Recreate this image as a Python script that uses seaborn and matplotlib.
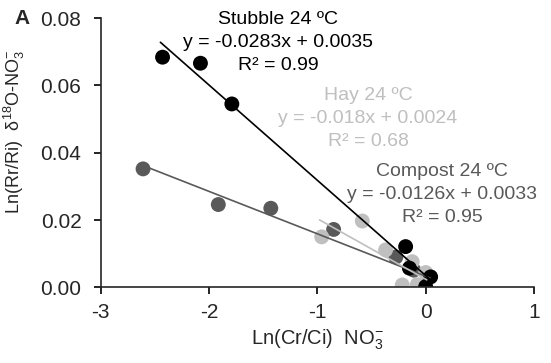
import numpy as np
import pandas as pd
import seaborn as sns
import matplotlib.pyplot as plt

# data
stubble_x = [-2.43, -2.08, -1.79, -0.185, -0.15, 0.046, 0.0]
stubble_y = [0.0684, 0.0666, 0.0545, 0.0121, 0.0057, 0.0031, 0.0002]
compost_x = [-2.61, -1.915, -1.43, -0.85, -0.275, -0.11, 0.03]
compost_y = [0.0352, 0.0246, 0.0235, 0.0172, 0.0090, 0.0051, 0.0030]
hay_x = [-0.96, -0.585, -0.37, -0.124, -0.216, -0.077, 0.0]
hay_y = [0.0150, 0.0197, 0.0111, 0.0076, 0.0007, 0.0008, 0.0044]

# fitted lines as printed on the chart
fits = {
    "Compost": (-0.0126, 0.0033, "0.95"),
    "Hay": (-0.018, 0.0024, "0.68"),
    "Stubble": (-0.0283, 0.0035, "0.99"),
}
colors = {"Compost": "#595959", "Hay": "#bfbfbf", "Stubble": "#000000"}

df = pd.DataFrame({
    "x": compost_x + hay_x + stubble_x,
    "y": compost_y + hay_y + stubble_y,
    "group": ["Compost"] * len(compost_x) + ["Hay"] * len(hay_x) + ["Stubble"] * len(stubble_x),
})

sns.set_style("ticks")
plt.rcParams["font.family"] = ["Liberation Sans", "DejaVu Sans"]
plt.rcParams["mathtext.fontset"] = "custom"
plt.rcParams["mathtext.rm"] = "Liberation Sans"
plt.rcParams["mathtext.it"] = "Liberation Sans"
plt.rcParams["axes.unicode_minus"] = False

fig = plt.figure(figsize=(5.51, 3.63), dpi=100)
ax = fig.add_axes([0.183, 0.2085, 0.786, 0.7415])

sns.scatterplot(data=df, x="x", y="y", hue="group", palette=colors, s=115,
                edgecolor="none", legend=False, ax=ax, zorder=2)

for g, (m, b, r2) in fits.items():
    sub = df[df.group == g]
    xs = np.array([sub.x.min() - 0.02, sub.x.max() + 0.01])
    sns.lineplot(x=xs, y=m * xs + b, color=colors[g], lw=1.2, ax=ax, zorder=3)

# equation labels (pixel centre x, first line centre y)
labels = {
    "Stubble": (278, 20),
    "Hay": (368, 96),
    "Compost": (442, 172),
}
for g, (px, py) in labels.items():
    m, b, r2 = fits[g]
    lines = [f"{g} 24 ºC", f"y = {m}x + {b}", f"R² = {r2}"]
    for i, t in enumerate(lines):
        fig.text(px / 551, 1 - (py + 22.5 * i) / 363, t, color=colors[g],
                 fontsize=14, ha="center", va="center")

ax.set_xlim(-3, 1)
ax.set_ylim(0, 0.08)
ax.set_xticks([-3, -2, -1, 0, 1])
ax.set_yticks([0, 0.02, 0.04, 0.06, 0.08])
ax.yaxis.set_major_formatter(plt.FormatStrFormatter("%.2f"))
ax.tick_params(labelsize=15, length=5, width=1.2, color="black", direction="out")
ax.tick_params(axis="y", pad=9)
ax.tick_params(axis="x", pad=6)
for s in ["left", "bottom"]:
    ax.spines[s].set_linewidth(1.2)
sns.despine(ax=ax)

ax.set_xlabel(r"Ln(Cr/Ci)  NO$_3^{-}$", fontsize=14.5, labelpad=4)
ax.set_ylabel(r"Ln(Rr/Ri)  $\delta^{18}$O-NO$_3^{-}$", fontsize=13)
ax.yaxis.set_label_coords(-0.17, 0.58)
fig.text(22 / 551, 1 - 19 / 363, "A", fontsize=15, fontweight="bold",
         ha="center", va="center")

fig.savefig("out.png", dpi=100)
